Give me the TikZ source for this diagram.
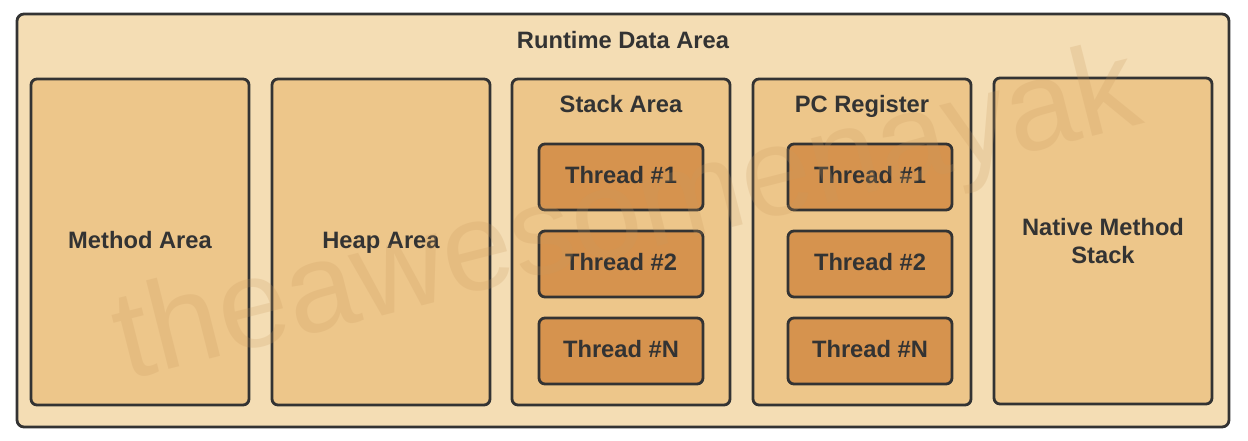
\documentclass[tikz,border=0pt]{standalone}
\usepackage{fontspec}
\setmainfont{Liberation Sans}
\definecolor{outerfill}{HTML}{F4DDB4}
\definecolor{boxfill}{HTML}{EDC68A}
\definecolor{threadfill}{HTML}{D6934E}
\definecolor{edge}{HTML}{333333}
\definecolor{wmark}{HTML}{C99A60}
\begin{document}
\begin{tikzpicture}[x=1pt,y=-1pt,
  lblfont/.style={text=edge,font=\fontsize{23.7}{28}\selectfont\bfseries,align=center},
  lbl/.style={lblfont,text height=17pt,text depth=5pt},
  outerbox/.style={draw=edge,line width=2.8pt,fill=outerfill,rounded corners=7pt,minimum width=1212pt,minimum height=413pt,inner sep=0pt},
  areabox/.style={draw=edge,line width=2.8pt,fill=boxfill,rounded corners=6pt,minimum width=218pt,minimum height=326pt,inner sep=0pt,lbl},
  threadbox/.style={draw=edge,line width=2.8pt,fill=threadfill,rounded corners=6pt,minimum width=164pt,minimum height=66pt,inner sep=0pt,lbl}]
\useasboundingbox[fill=white] (0,0) rectangle (1248,440);
\node[outerbox] (rda) at (623,220.5) {};
\node[lbl] (rdatitle) at (623,42.5) {Runtime Data Area};
\node[areabox] (method) at (140,242) {Method Area};
\node[areabox] (heap) at (381,242) {Heap Area};
\node[areabox] (stack) at (621,242) {};
\node[areabox] (pc) at (862,242) {};
\node[areabox,text height=,text depth=,lblfont] (native) at (1103,241) {Native Method\\Stack};
\node[lbl] (stacktitle) at (621,106.5) {Stack Area};
\node[lbl] (pctitle) at (862,106.5) {PC Register};
\node[threadbox] (s1) at (621,177) {Thread \#1};
\node[threadbox] (s2) at (621,264) {Thread \#2};
\node[threadbox] (sn) at (621,351) {Thread \#N};
\node[threadbox] (p1) at (870,177) {Thread \#1};
\node[threadbox] (p2) at (870,264) {Thread \#2};
\node[threadbox] (pn) at (870,351) {Thread \#N};
\node[text=wmark,opacity=0.22,rotate=14.2,font=\fontsize{126}{140}\selectfont,inner sep=0pt] (wm) at (628,220) {theawesomenayak};
\end{tikzpicture}
\end{document}
